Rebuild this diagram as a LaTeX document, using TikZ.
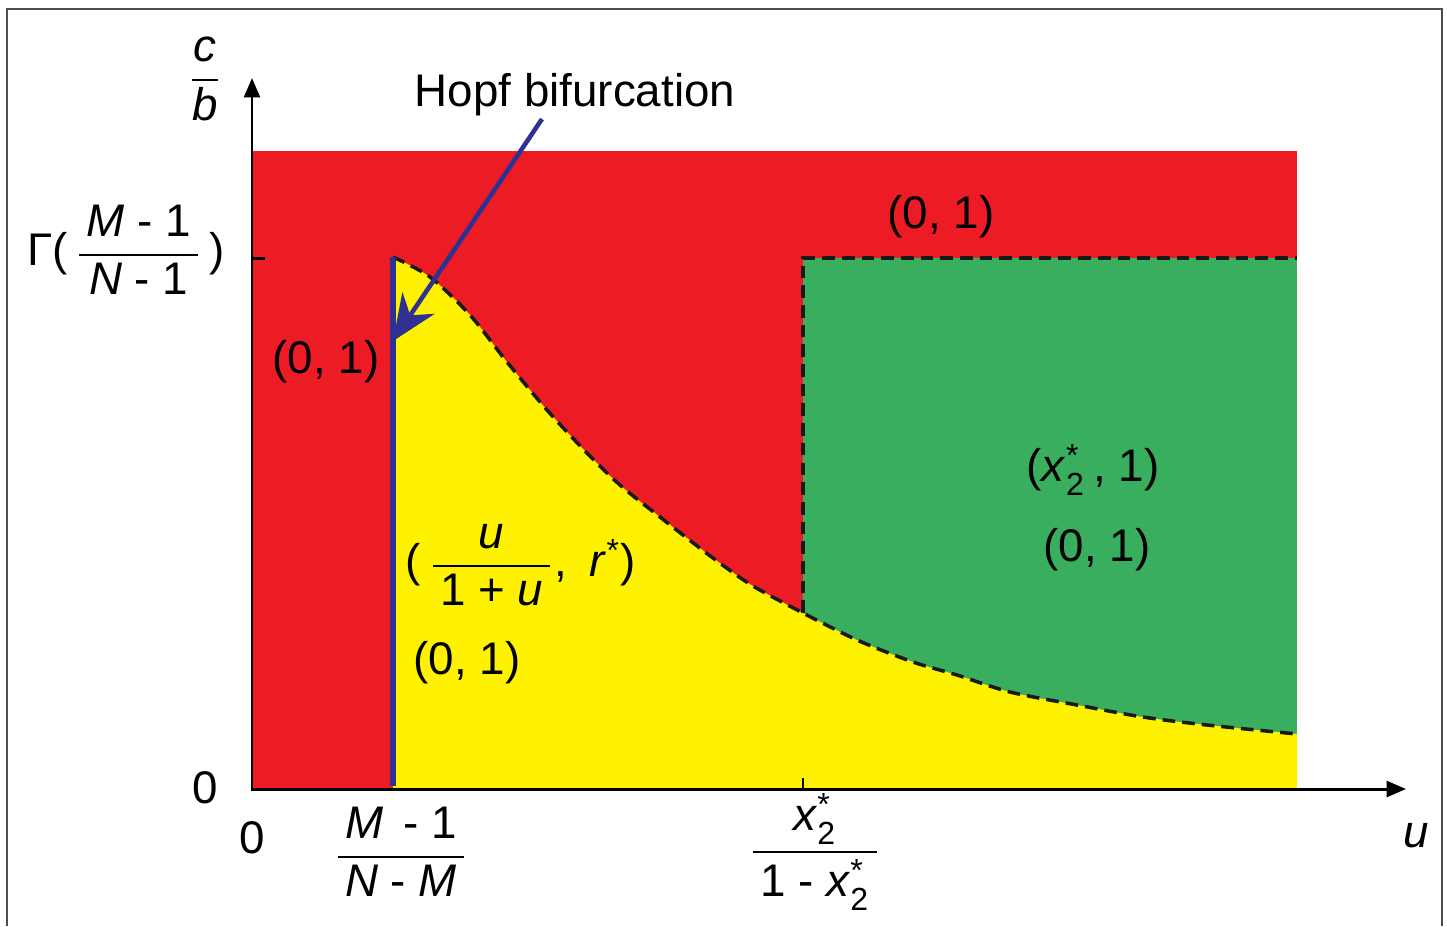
\documentclass[tikz,border=0pt]{standalone}
\usepackage{amsmath}
\usepackage{fontspec}
\setmainfont{Liberation Sans}
\usetikzlibrary{arrows.meta}
\definecolor{regred}{RGB}{237,28,36}
\definecolor{regyellow}{RGB}{255,242,0}
\definecolor{reggreen}{RGB}{57,174,94}
\definecolor{hopfblue}{RGB}{46,49,146}
\newcommand{\fr}[2]{$\displaystyle\genfrac{}{}{0.6pt}{}{\text{\hspace{2pt}#1\hspace{2pt}}}{\text{\hspace{2pt}#2\hspace{2pt}}}$}
\newcommand{\xst}{\textit{x}$^{\text{*}}_{\text{2}}$}
\begin{document}
\begin{tikzpicture}[x=0.01cm,y=-0.01cm,
  lbl/.style={font=\fontsize{13}{15}\selectfont,inner sep=0pt},
  axis/.style={line width=0.85pt,-{Triangle[length=5.5pt,width=4.5pt]}},
  dashcurve/.style={line width=1pt,dash pattern=on 3.6pt off 2pt,black!90}]
\useasboundingbox (0,0) rectangle (1447,926);
\draw[black!70,line width=0.4pt] (7,926) -- (7,9) -- (1442,9) -- (1442,926);

% regions
\fill[regred] (252,151) rectangle (1297,789);
\fill[reggreen] (803,258) rectangle (1297,789);
\fill[regyellow] plot[smooth] coordinates {(393,257) (430,277) (470,315) (507,362) (547,410) (587,453) (620,485) (660,517) (713,558) (753,586) (803,613)}
  -- plot[smooth] coordinates {(803,613) (857,640) (913,662) (957,675) (1010,692) (1077,705) (1143,717) (1207,725) (1297,734)}
  -- (1297,789) -- (393,789) -- cycle;

% borders
\draw[dashcurve] plot[smooth] coordinates {(393,257) (430,277) (470,315) (507,362) (547,410) (587,453) (620,485) (660,517) (713,558) (753,586) (803,613)}
  -- plot[smooth] coordinates {(803,613) (857,640) (913,662) (957,675) (1010,692) (1077,705) (1143,717) (1207,725) (1297,734)};
\draw[dashcurve] (803,613) -- (803,258) -- (1297,258);

% axes
\coordinate (origin) at (252,789);
\coordinate (yend) at (252,78);
\coordinate (xend) at (1406,789);
\draw[axis] (252,791) -- (yend);
\draw[axis] (origin) -- (xend);
\draw[line width=0.85pt] (252,258) -- (265,258);
\draw[line width=0.4pt] (803,778) -- (803,789);

% Hopf line and arrow
\coordinate (hopftop) at (393,257);
\coordinate (hopfbot) at (393,786);
\draw[hopfblue,line width=1.7pt] (hopftop) -- (hopfbot);
\coordinate (hopfstart) at (542,119);
\coordinate (hopftip) at (393,341);
\draw[hopfblue,line width=1.3pt,-{Stealth[length=13pt,width=11pt]}] (hopfstart) -- (hopftip);

% labels
\node[lbl] (cb) at (205,79) {$\displaystyle\genfrac{}{}{0.6pt}{}{\text{\textit{c}}}{\text{\textit{b}}}$};
\node[lbl] (gam) at (126,250) {Γ(\,\fr{\textit{M} - 1}{\textit{N} - 1}\,)};
\node[lbl] (yzero) at (205,788) {0};
\node[lbl] (xzero) at (252,838) {0};
\node[lbl] (xmn) at (401,852) {\fr{\textit{M}\, - 1}{\textit{N} - \textit{M}}};
\node[lbl] (xst) at (815,852) {\fr{\xst}{1 - \xst}};
\node[lbl] (ulbl) at (1416,836) {\textit{u}};
\node[lbl] (hopf) at (575,95) {Hopf bifurcation};
\node[lbl] (redtop) at (941,217) {(0, 1)};
\node[lbl] (redleft) at (326,362) {(0, 1)};
\node[lbl] (yelfrac) at (521,565) {(\,\fr{\textit{u}}{1 + \textit{u}},\enspace\textit{r}$^{\text{*}}$)};
\node[lbl] (yelpt) at (467,663) {(0, 1)};
\node[lbl] (grnx) at (1093,470) {(\xst\,, 1)};
\node[lbl] (grnpt) at (1097,550) {(0, 1)};
\end{tikzpicture}
\end{document}
